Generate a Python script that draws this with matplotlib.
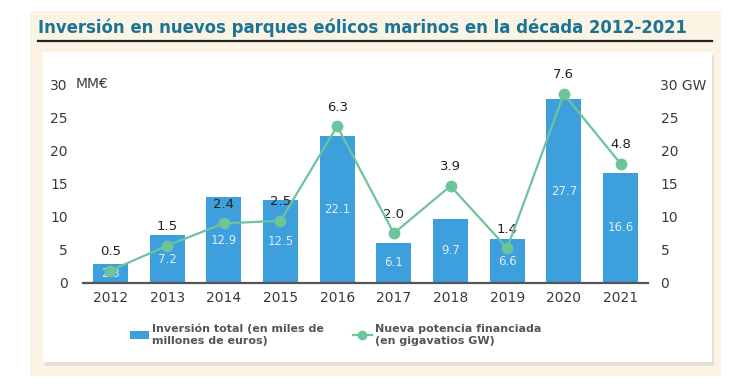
import numpy as np
import matplotlib.pyplot as plt
from matplotlib.patches import Rectangle, Patch
from matplotlib.lines import Line2D

years = ['2012', '2013', '2014', '2015', '2016', '2017', '2018', '2019', '2020', '2021']
inversion = [2.8, 7.2, 12.9, 12.5, 22.1, 6.1, 9.7, 6.6, 27.7, 16.6]
potencia = [0.5, 1.5, 2.4, 2.5, 6.3, 2.0, 3.9, 1.4, 7.6, 4.8]
left_ticks = [0, 5, 10, 15, 20, 25, 30]
right_ticks = ['0', '5', '10', '15', '20', '25', '30 GW']

W, H = 729, 388
bar_color = '#3d9fdc'
line_color = '#6cc49a'
text_color = '#3a3a3a'
title_color = '#1b7395'

fig = plt.figure(figsize=(W / 100, H / 100), dpi=100, facecolor='white')

def px_rect(x0, y0, x1, y1, **kw):
    # rectangle given in pixel coords (origin top-left)
    fig.patches.append(Rectangle((x0 / W, 1 - y1 / H), (x1 - x0) / W, (y1 - y0) / H,
                                 transform=fig.transFigure, zorder=-3, **kw))

px_rect(30, 11, 721, 376, facecolor='#fbf3e3', edgecolor='none')
px_rect(45, 55, 714, 366, facecolor='#e6dfd2', edgecolor='none')
px_rect(43, 52, 712, 362, facecolor='white', edgecolor='none')

title = fig.text(38 / W, 1 - 33 / H,
                 'Inversión en nuevos parques eólicos marinos en la década 2012-2021',
                 family='DejaVu Sans', fontstretch='condensed', fontweight='bold',
                 fontsize=16, color=title_color, ha='left', va='baseline')
# shrink the title until it fits the 650 px it takes in the reference
renderer = fig.canvas.get_renderer()
tw = title.get_window_extent(renderer).width
if tw > 652:
    title.set_fontsize(16 * 652 / tw)
fig.add_artist(Line2D([38 / W, 712 / W], [1 - 41 / H, 1 - 41 / H], color='#222222', lw=1.6))

ax = fig.add_axes([83 / W, 1 - 283 / H, 565 / W, 199 / H])
ax.set_facecolor('none')
x = np.arange(len(years))
ax.bar(x, inversion, width=0.62, color=bar_color, zorder=2)
for xi, v in zip(x, inversion):
    ax.text(xi, v / 2, f'{v:.1f}', ha='center', va='center', color='#dbeefa',
            fontsize=8.5, zorder=3)

ax.set_xlim(-0.485, 9.485)
ax.set_ylim(0, 30)
ax.set_xticks(x)
ax.set_xticklabels(years)
ax.set_yticks(left_ticks)
ax.set_yticklabels([str(t) for t in left_ticks], ha='right')
ax.tick_params(axis='x', length=0, pad=6, labelsize=10, labelcolor=text_color)
ax.tick_params(axis='y', length=0, pad=11, labelsize=10, labelcolor=text_color)
for s in ['top', 'left', 'right']:
    ax.spines[s].set_visible(False)
ax.spines['bottom'].set_color('#555555')
ax.spines['bottom'].set_linewidth(1.6)
ax.text(76 / W, 1 - 84 / H, 'MM€', transform=fig.transFigure, ha='left', va='center',
        fontsize=10, color=text_color)

ax2 = ax.twinx()
ax2.set_ylim(0, 8)
ax2.set_yticks(np.linspace(0, 8, 7))
ax2.set_yticklabels(right_ticks)
ax2.tick_params(axis='y', length=0, pad=9, labelsize=10, labelcolor=text_color)
for s in ax2.spines.values():
    s.set_visible(False)
ax2.plot(x, potencia, color=line_color, lw=1.6, marker='o', markersize=7.5, zorder=4)
for xi, v in zip(x, potencia):
    ax2.annotate(f'{v:.1f}', (xi, v), xytext=(0, 9), textcoords='offset points',
                 ha='center', va='bottom', fontsize=9.5, color='#222222')

handles = [Patch(facecolor=bar_color, edgecolor='none'),
           Line2D([], [], color=line_color, lw=1.6, marker='o', markersize=6)]
labels = ['Inversión total (en miles de\nmillones de euros)',
          'Nueva potencia financiada\n(en gigavatios GW)']
fig.legend(handles, labels, loc='upper left', bbox_to_anchor=(120 / W, 1 - 314 / H),
           ncol=2, frameon=False, prop={'weight': 'bold', 'size': 8},
           labelcolor='#555555', handlelength=1.7, handletextpad=0.3,
           columnspacing=2.6, labelspacing=0.2)

fig.savefig('out.png', dpi=100, facecolor='white')
